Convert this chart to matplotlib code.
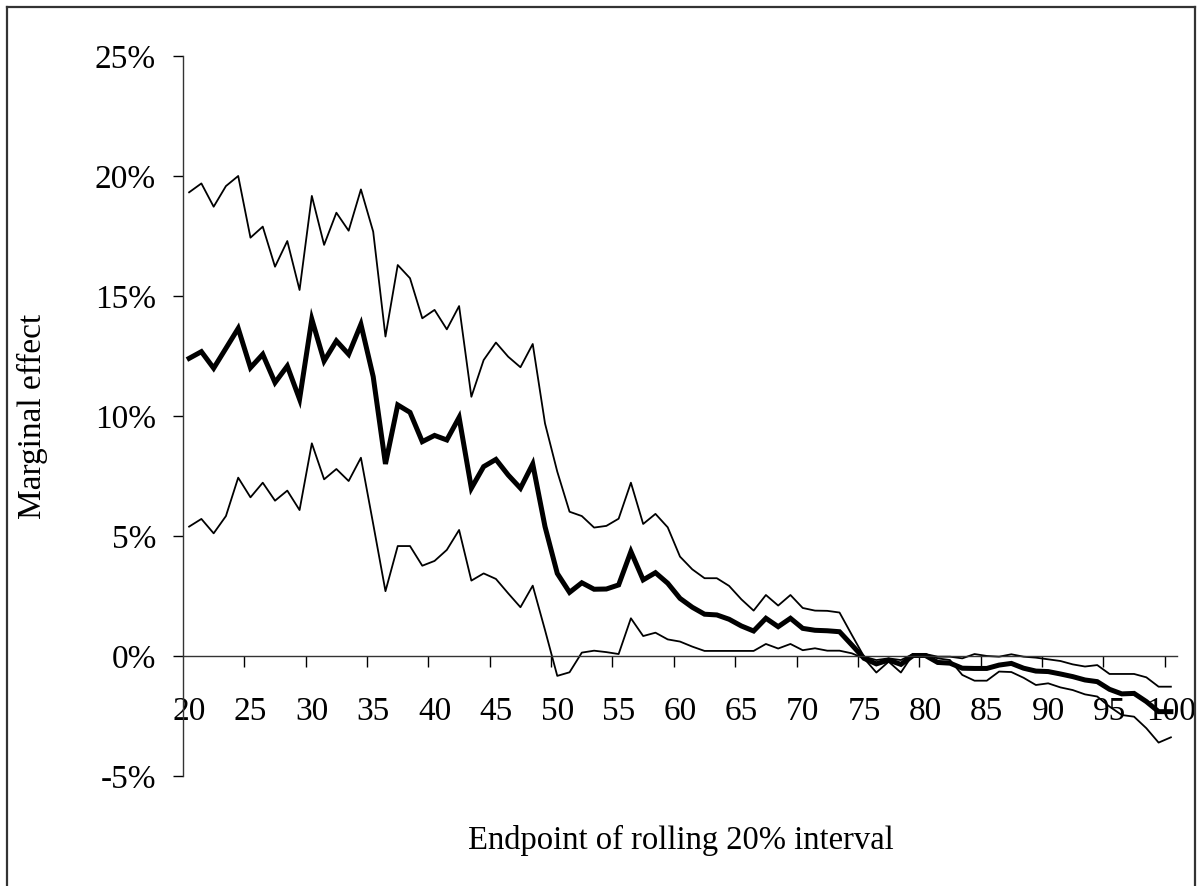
import matplotlib
matplotlib.use("Agg")
import matplotlib.pyplot as plt
from matplotlib.ticker import FuncFormatter
from matplotlib.lines import Line2D
import numpy as np

# endpoint of rolling interval (categories 20..100)
endpoints = list(range(20, 101))

# marginal effect, percent
effect = [12.40, 12.68, 11.99, 12.82, 13.65, 12.01, 12.57, 11.39, 12.08, 10.70,
          14.03, 12.29, 13.13, 12.57, 13.82, 11.64, 8.00, 10.46, 10.15, 8.93,
          9.19, 9.00, 9.94, 6.99, 7.89, 8.19, 7.54, 6.99, 8.00, 5.39,
          3.44, 2.65, 3.05, 2.78, 2.79, 2.96, 4.35, 3.17, 3.47, 3.03,
          2.40, 2.03, 1.74, 1.71, 1.53, 1.25, 1.04, 1.57, 1.22, 1.57,
          1.15, 1.07, 1.05, 1.01, 0.46, -0.10, -0.33, -0.17, -0.35, 0.02,
          0.02, -0.27, -0.30, -0.51, -0.52, -0.52, -0.38, -0.31, -0.51, -0.63,
          -0.65, -0.75, -0.86, -1.00, -1.07, -1.39, -1.58, -1.56, -1.90, -2.32,
          -2.32]

# upper bound
upper = [19.32, 19.69, 18.72, 19.58, 20.00, 17.43, 17.89, 16.22, 17.29, 15.25,
         19.17, 17.13, 18.47, 17.72, 19.44, 17.68, 13.31, 16.29, 15.74, 14.07,
         14.42, 13.61, 14.58, 10.80, 12.33, 13.06, 12.47, 12.03, 13.00, 9.69,
         7.68, 6.01, 5.83, 5.35, 5.42, 5.72, 7.22, 5.50, 5.92, 5.36,
         4.14, 3.61, 3.24, 3.24, 2.92, 2.36, 1.89, 2.54, 2.10, 2.54,
         2.00, 1.89, 1.88, 1.81, 0.88, -0.03, -0.17, -0.10, -0.17, 0.08,
         0.08, -0.03, -0.03, -0.10, 0.08, 0.00, -0.03, 0.07, -0.03, -0.07,
         -0.14, -0.21, -0.35, -0.44, -0.38, -0.75, -0.75, -0.75, -0.89, -1.28,
         -1.28]

# lower bound
lower = [5.39, 5.71, 5.11, 5.83, 7.43, 6.61, 7.22, 6.47, 6.89, 6.08,
         8.86, 7.36, 7.79, 7.29, 8.26, 5.50, 2.70, 4.58, 4.58, 3.76,
         3.96, 4.42, 5.25, 3.14, 3.44, 3.21, 2.61, 2.03, 2.93, 1.08,
         -0.83, -0.68, 0.14, 0.22, 0.16, 0.08, 1.57, 0.83, 0.97, 0.69,
         0.60, 0.39, 0.21, 0.21, 0.21, 0.21, 0.21, 0.50, 0.31, 0.50,
         0.24, 0.32, 0.22, 0.22, 0.11, -0.10, -0.69, -0.24, -0.69, 0.08,
         0.08, -0.10, -0.17, -0.79, -1.03, -1.03, -0.65, -0.67, -0.91, -1.21,
         -1.14, -1.31, -1.42, -1.60, -1.69, -2.11, -2.46, -2.53, -3.01, -3.61,
         -3.39]

plt.rcParams["font.family"] = ["Liberation Serif", "DejaVu Serif"]

fig = plt.figure(figsize=(12.03, 8.86), dpi=100)
ax = fig.add_axes([0.1521, 0.1242, 0.8263, 0.8126])

ax.plot(endpoints, upper, color="black", lw=1.3)
ax.plot(endpoints, lower, color="black", lw=1.3)
ax.plot(endpoints, effect, color="black", lw=3.6, solid_joinstyle="miter")

ax.set_xlim(19.5, 100.5)
ax.set_ylim(-5, 25)

# y axis
ax.set_yticks([-5, 0, 5, 10, 15, 20, 25])
ax.yaxis.set_major_formatter(FuncFormatter(lambda v, p: f"{v:.0f}%"))
ax.tick_params(axis="y", direction="out", length=7.5, width=1, pad=12, labelsize=24)

# x axis: labels on category centres, tick marks on boundaries
ax.set_xticks(range(20, 101, 5))
ax.set_xticks(np.arange(24.5, 100, 5), minor=True)
ax.tick_params(axis="x", which="major", length=0, pad=29, labelsize=24)
ax.tick_params(axis="x", which="minor", direction="out", length=8, width=1)

ax.spines["top"].set_visible(False)
ax.spines["right"].set_visible(False)
ax.spines["bottom"].set_position(("data", 0))
ax.spines["left"].set_linewidth(1)
ax.spines["bottom"].set_linewidth(1)
ax.spines["left"].set_color("#333333")
ax.spines["bottom"].set_color("#333333")

ax.set_ylabel("Marginal effect", fontsize=24)
ax.yaxis.set_label_coords(-0.136, 0.5)
fig.text(0.566, 1 - 840 / 886, "Endpoint of rolling 20% interval", fontsize=23.5, ha="center", va="center")

# outer frame (top, left, right)
fr = dict(color="#333333", lw=1.6, transform=fig.transFigure)
fig.add_artist(Line2D([7 / 1203, 1195 / 1203], [1 - 7 / 886, 1 - 7 / 886], **fr))
fig.add_artist(Line2D([7 / 1203, 7 / 1203], [0, 1 - 7 / 886], **fr))
fig.add_artist(Line2D([1195 / 1203, 1195 / 1203], [0, 1 - 7 / 886], **fr))

fig.savefig("out.png", dpi=100)
